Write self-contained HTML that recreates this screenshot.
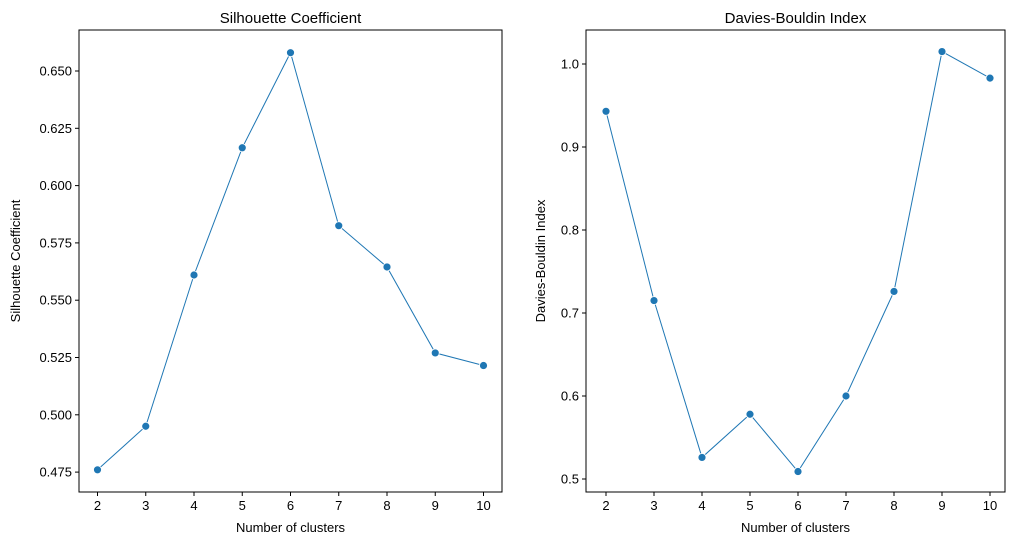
<!DOCTYPE html><html><head><style>body{margin:0;background:#fff}svg{font-family:"Liberation Sans","DejaVu Sans",sans-serif}</style></head><body>
<svg id="s" width="1019" height="545" xmlns="http://www.w3.org/2000/svg"></svg>
<script>
const s=document.getElementById('s');let h='';
function ax(L,R,T,B,x2,x10,yt,ymap,data,ymapv,title,ylab,ylx){
 h+=`<rect x="${L}" y="${T}" width="${R-L}" height="${B-T}" fill="none" stroke="#000" stroke-width="1"/>`;
 const xm=k=>x2+(k-2)*(x10-x2)/8;
 for(let k=2;k<=10;k++){const x=xm(k);h+=`<line x1="${x}" y1="${B}" x2="${x}" y2="${B+4}" stroke="#000"/><text x="${x}" y="${B+18}" font-size="13" text-anchor="middle">${k}</text>`;}
 for(const [lab,v] of yt){const y=ymapv(v);h+=`<line x1="${L-4}" y1="${y}" x2="${L}" y2="${y}" stroke="#000"/><text x="${L-7}" y="${y+4.5}" font-size="13" text-anchor="end">${lab}</text>`;}
 const pts=data.map((v,i)=>[xm(i+2),ymapv(v)]);
 h+=`<polyline points="${pts.map(p=>p.join(',')).join(' ')}" fill="none" stroke="#1f77b4" stroke-width="1"/>`;
 pts.forEach(p=>h+=`<circle cx="${p[0]}" cy="${p[1]}" r="4" fill="#1f77b4" stroke="#fff" stroke-width="0.8"/>`);
 h+=`<text x="${(L+R)/2}" y="${T-7}" font-size="15" text-anchor="middle">${title}</text>`;
 h+=`<text x="${(L+R)/2}" y="${B+40}" font-size="13" text-anchor="middle">Number of clusters</text>`;
 h+=`<text transform="translate(${ylx},${(T+B)/2}) rotate(-90)" font-size="13" text-anchor="middle">${ylab}</text>`;
}
ax(79,502,30,492,97.5,483.5,[["0.475",.475],["0.500",.5],["0.525",.525],["0.550",.55],["0.575",.575],["0.600",.6],["0.625",.625],["0.650",.65]],null,
 [.476,.495,.561,.6165,.658,.5825,.5645,.527,.5215],v=>71+(0.65-v)/0.025*57.3,"Silhouette Coefficient","Silhouette Coefficient",20);
ax(586,1005,30,492,606,990,[["0.5",.5],["0.6",.6],["0.7",.7],["0.8",.8],["0.9",.9],["1.0",1.0]],null,
 [.943,.715,.526,.578,.509,.600,.726,1.015,.983],v=>479-(v-0.5)*830,"Davies-Bouldin Index","Davies-Bouldin Index",545);
s.innerHTML=h;
</script></body></html>
